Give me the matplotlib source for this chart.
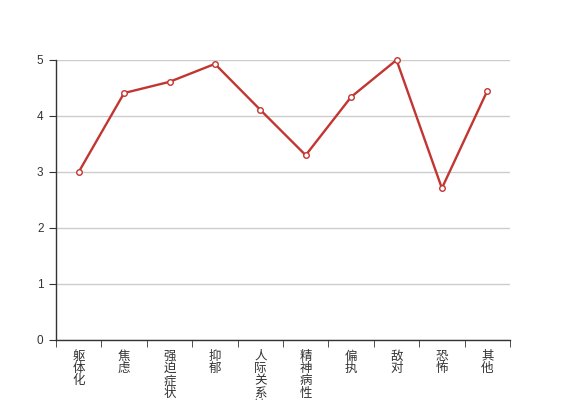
import matplotlib
matplotlib.use("Agg")
import matplotlib.pyplot as plt
import numpy as np

plt.rcParams['font.family'] = ['Noto Sans CJK SC', 'DejaVu Sans']

categories = ["躯体化", "焦虑", "强迫症状", "抑郁", "人际关系敏感", "精神病性", "偏执", "敌对", "恐怖", "其他"]
values = [3.0, 4.41, 4.61, 4.93, 4.11, 3.30, 4.34, 5.0, 2.71, 4.45]
yticks = [0, 1, 2, 3, 4, 5]

fig = plt.figure(figsize=(5.67, 4.0), dpi=100)
ax = fig.add_axes([56/567, 1-340/400, (510-56)/567, 280/400])

x = np.arange(len(categories))
ax.plot(x, values, color='#c23531', lw=1.7, marker='o', markersize=4,
        markerfacecolor='white', markeredgecolor='#c23531', markeredgewidth=1,
        zorder=3, clip_on=False)

ax.set_xlim(-0.5, len(categories) - 0.5)
ax.set_ylim(0, 5)
ax.set_yticks(yticks)
ax.yaxis.grid(True, color='#cccccc', lw=1)
ax.set_axisbelow(True)

for s in ['top', 'right']:
    ax.spines[s].set_visible(False)
for s in ['left', 'bottom']:
    ax.spines[s].set_color('#333333')
    ax.spines[s].set_linewidth(1)

ax.tick_params(axis='y', length=5, color='#333333', labelsize=8.5, labelcolor='#333333', pad=4)
for lab in ax.get_yticklabels():
    lab.set_family(['Liberation Sans', 'DejaVu Sans'])
ax.set_xticks(np.arange(-0.5, len(categories), 1.0), minor=True)
ax.set_xticks(x)
ax.set_xticklabels(['\n'.join(c) for c in categories], fontsize=9, color='#333333',
                   linespacing=0.93, va='top')
ax.tick_params(axis='x', which='major', length=0, pad=7)
ax.tick_params(axis='x', which='minor', length=5, color='#333333')

fig.savefig('out.png', dpi=100)
